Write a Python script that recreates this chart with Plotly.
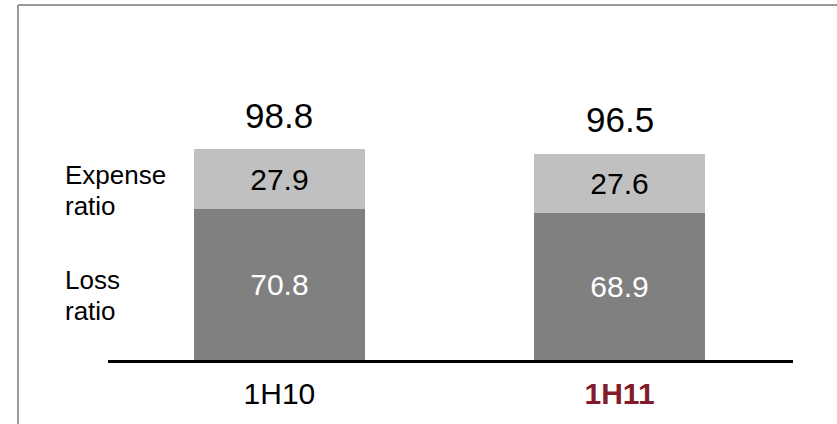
import plotly.graph_objects as go

categories = ["1H10", "1H11"]
loss_ratio = [70.8, 68.9]
expense_ratio = [27.9, 27.6]
combined_ratio = [98.8, 96.5]
segment_labels = ["Loss ratio", "Expense ratio"]

FONT = "Liberation Sans, Arial, sans-serif"
x_idx = list(range(len(categories)))

fig = go.Figure()
fig.add_trace(go.Bar(
    x=x_idx, y=loss_ratio, name=segment_labels[0],
    marker=dict(color="#808080", line=dict(width=0)),
    width=0.503,
    text=[f"{v:.1f}" for v in loss_ratio],
    textposition="inside", insidetextanchor="middle",
    textfont=dict(family=FONT, size=30, color="white"),
    hoverinfo="skip",
))
fig.add_trace(go.Bar(
    x=x_idx, y=expense_ratio, name=segment_labels[1],
    marker=dict(color="#C0C0C0", line=dict(width=0)),
    width=0.503,
    text=[f"{v:.1f}" for v in expense_ratio],
    textposition="inside", insidetextanchor="middle",
    textfont=dict(family=FONT, size=30, color="black"),
    hoverinfo="skip",
))

annotations = []
# totals above bars
for i, tot in enumerate(combined_ratio):
    annotations.append(dict(
        x=i, y=tot, xref="x", yref="y", text=f"{tot:.1f}",
        showarrow=False, yanchor="middle", yshift=34,
        font=dict(family=FONT, size=35, color="black"),
    ))

# segment labels to the left of the first bar
seg_mid = [loss_ratio[0] / 2, loss_ratio[0] + expense_ratio[0] / 2]
for label, ym in zip(segment_labels, seg_mid):
    words = label.split()
    n = len(words)
    for k, w in enumerate(words):
        annotations.append(dict(
            x=-0.0657, y=ym, xref="paper", yref="y", text=w,
            showarrow=False, xanchor="left", yanchor="middle",
            yshift=(n - 1) / 2 * 31 - k * 31 - 11,
            font=dict(family=FONT, size=26, color="black"),
        ))

ticktext = [categories[0],
            f"<b><span style='color:#821C2A'>{categories[1]}</span></b>"]

fig.update_layout(
    width=837, height=424,
    margin=dict(l=108, r=44, t=0, b=64, pad=0),
    barmode="stack",
    showlegend=False,
    plot_bgcolor="white", paper_bgcolor="white",
    annotations=annotations,
    xaxis=dict(
        range=[-0.504, 1.510], tickmode="array", tickvals=x_idx,
        ticktext=ticktext, ticks="", showgrid=False, zeroline=False,
        showline=True, linecolor="black", linewidth=3,
        tickfont=dict(family=FONT, size=30, color="black"),
        ticklabelstandoff=5, fixedrange=True,
    ),
    yaxis=dict(
        range=[0, 168.6], visible=False, showgrid=False, zeroline=False,
        fixedrange=True,
    ),
    shapes=[
        dict(type="line", xref="paper", yref="paper",
             x0=-0.1314, x1=1.08, y0=0.9861, y1=0.9861,
             line=dict(color="#999999", width=2)),
        dict(type="line", xref="paper", yref="paper",
             x0=-0.1314, x1=-0.1314, y0=0.9861, y1=-0.2,
             line=dict(color="#999999", width=2)),
    ],
)

fig.write_html("out.html", config={"displayModeBar": False},
               post_script="document.body.style.margin='0';")
